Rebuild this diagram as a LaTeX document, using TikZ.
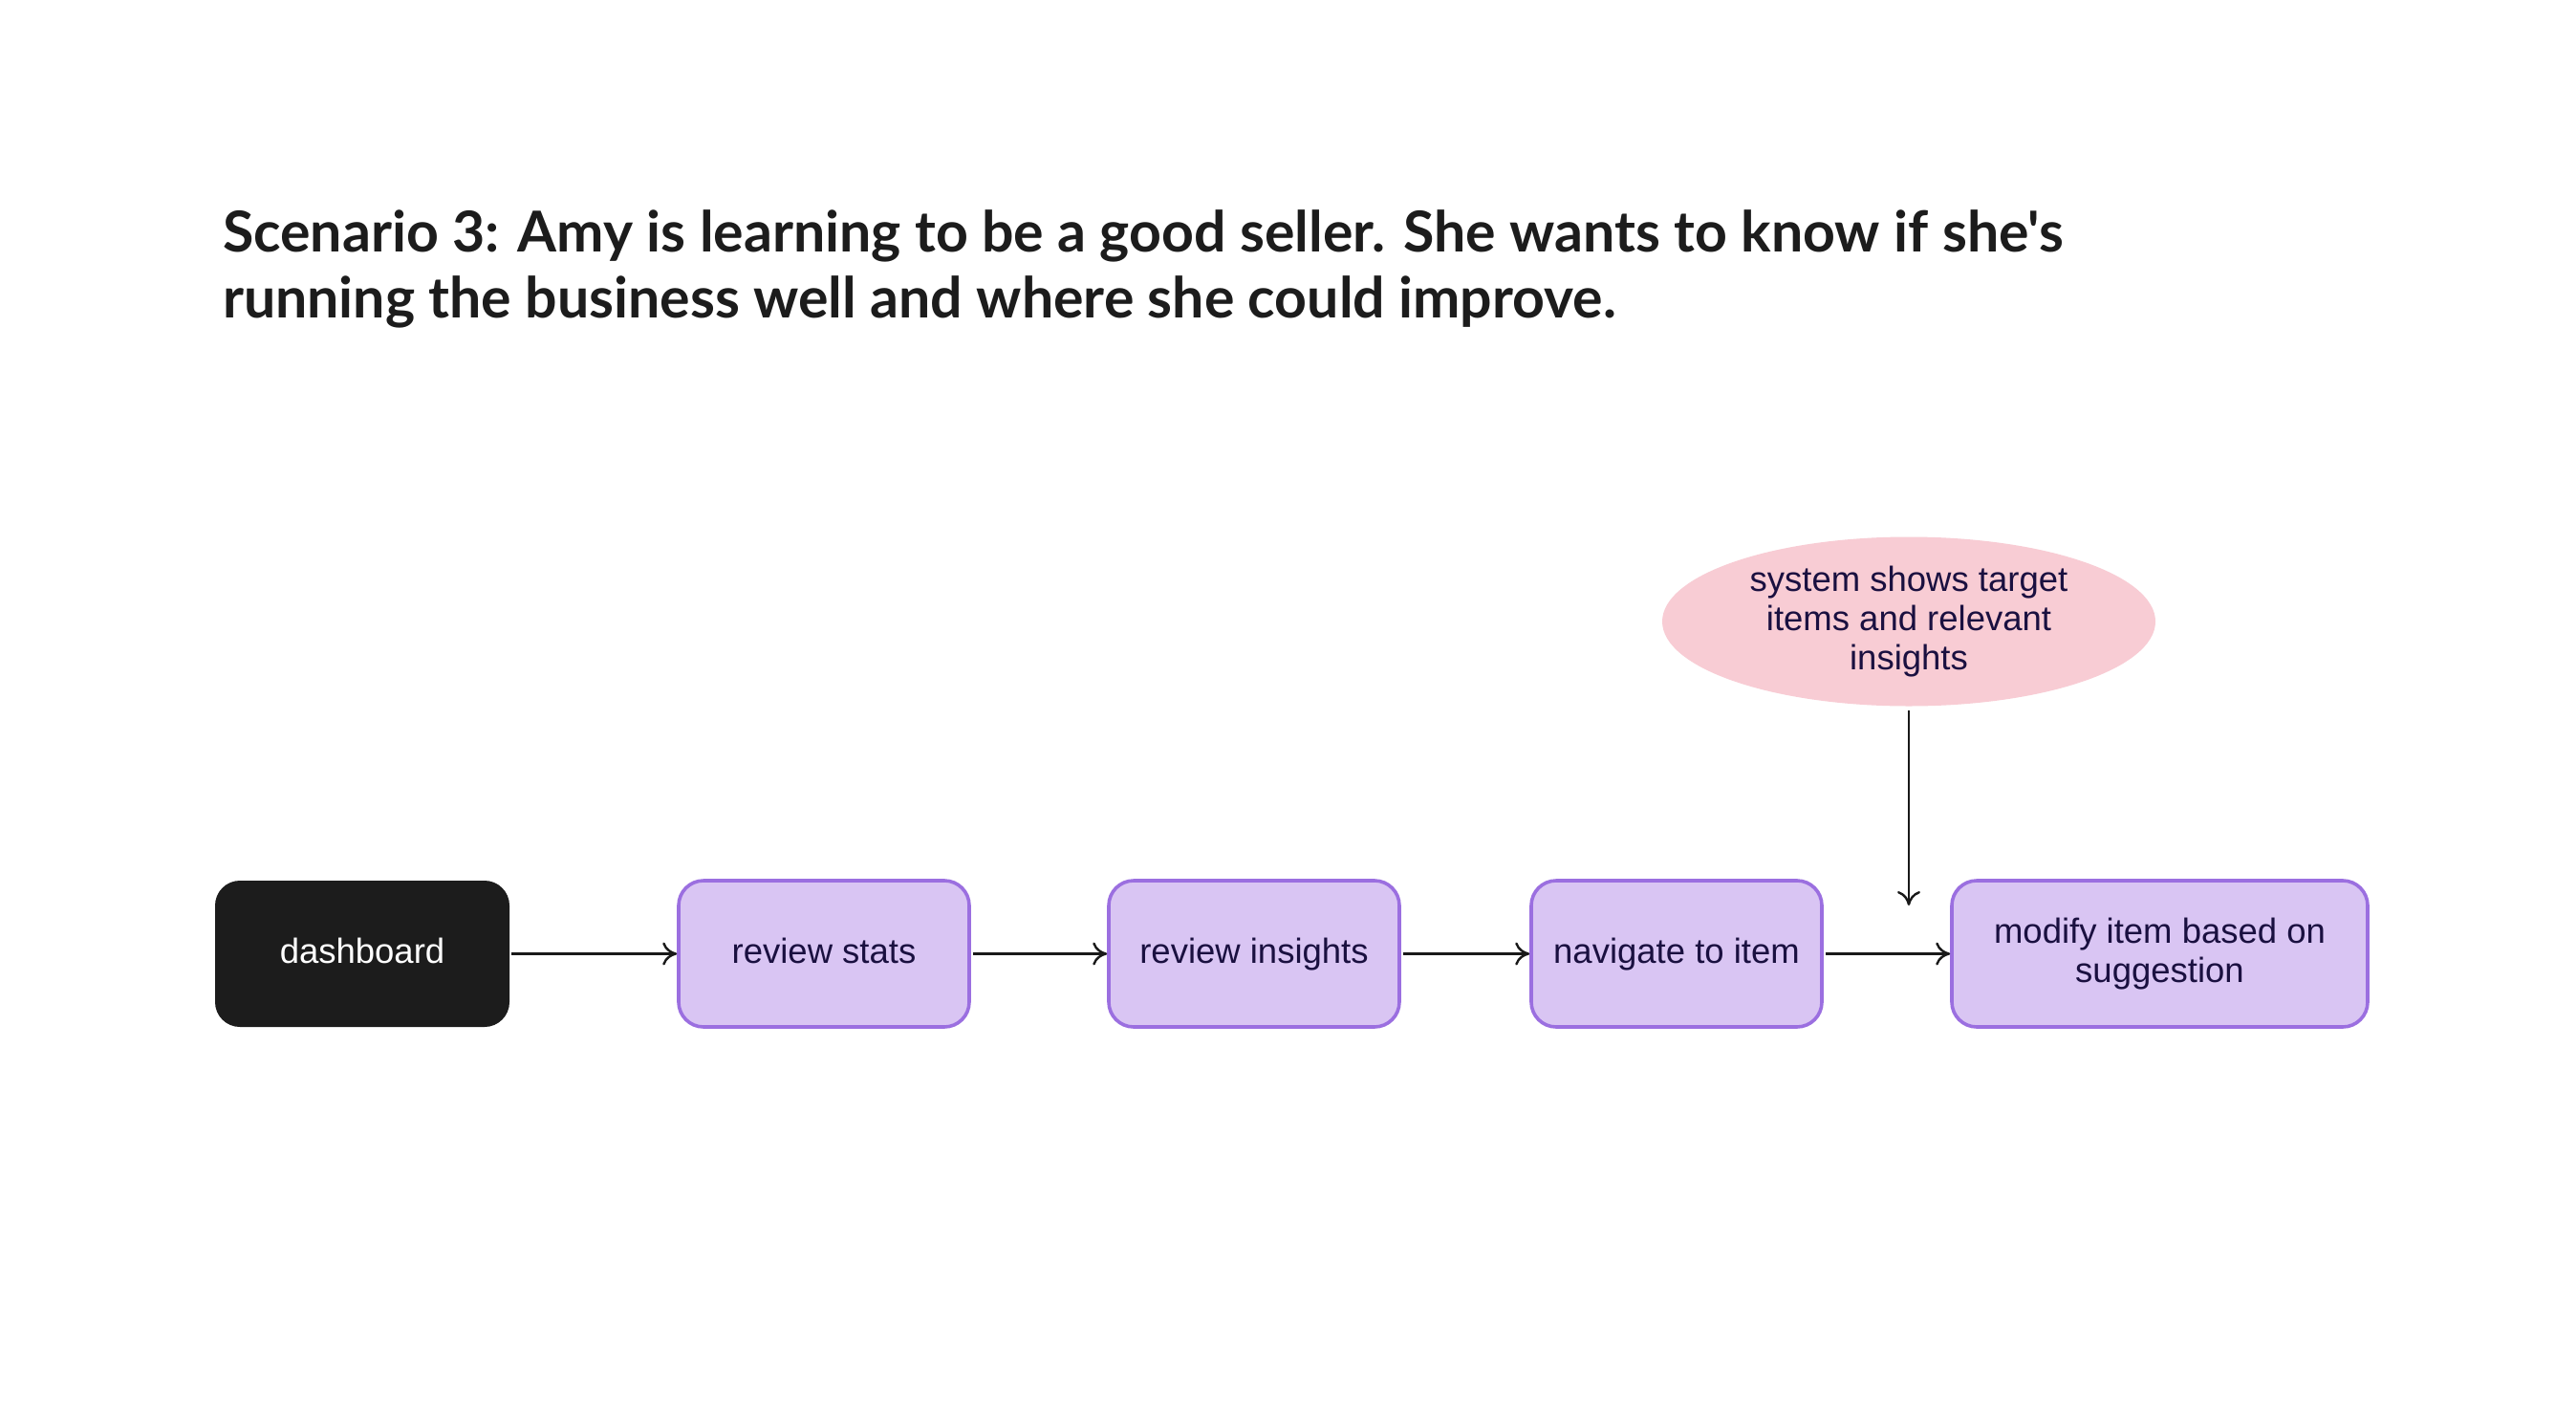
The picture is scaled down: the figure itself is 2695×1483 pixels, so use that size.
\documentclass[tikz,border=0pt]{standalone}
\usepackage{fontspec}
\setmainfont{Liberation Sans}
\newfontfamily\titlefont{Lato}
\usetikzlibrary{arrows.meta,shapes.geometric}
\definecolor{boxfill}{HTML}{D9C5F3}
\definecolor{boxline}{HTML}{9B6FE0}
\definecolor{boxtext}{HTML}{1A1040}
\definecolor{darkfill}{HTML}{1C1C1C}
\definecolor{pinkfill}{HTML}{F8CCD4}
\definecolor{titlecol}{HTML}{1C1C1C}
\tikzset{
  flowbox/.style={draw=boxline, fill=boxfill, line width=1.8pt, rounded corners=13pt,
    minimum width=152pt, minimum height=76.5pt, inner sep=0pt, align=center,
    text=boxtext, font=\fontsize{18.25}{20.5}\selectfont},
  oneline/.style={text height=15.5pt, text depth=5.5pt},
  startbox/.style={fill=darkfill, rounded corners=13pt, minimum width=154pt,
    minimum height=76.5pt, inner sep=0pt, text=white, font=\fontsize{18.25}{20.5}\selectfont},
  note/.style={ellipse, fill=pinkfill, minimum width=258pt, minimum height=88.5pt,
    inner sep=0pt, align=center, text=boxtext, font=\fontsize{18.25}{20.5}\selectfont},
  flow/.style={line width=1.2pt, -{To[length=7.5pt,width=12pt,line width=1.2pt]}, draw=black!90}
}
\begin{document}
\begin{tikzpicture}[x=0.5pt,y=-0.5pt]
\useasboundingbox[fill=white] (0,0) rectangle (2695,1483);
\node[anchor=west, align=left, text=titlecol, font=\titlefont\bfseries\fontsize{29.5}{34.5}\selectfont] (title) at (226,281)
  {Scenario 3: Amy is learning to be a good seller. She wants to know if she's\\running the business well and where she could improve.};
\node[startbox, oneline] (dash) at (379,997.5) {dashboard};
\node[flowbox, oneline] (stats) at (862,997.5) {review stats};
\node[flowbox, oneline] (ins) at (1312,997.5) {review insights};
\node[flowbox, oneline] (nav) at (1754,997.5) {navigate to item};
\node[flowbox, minimum width=217.5pt] (mod) at (2259.5,997.5) {modify item based on\\suggestion};
\node[note] (sys) at (1997,650) {system shows target\\items and relevant\\insights};
\coordinate (drop) at (1997,947);
\draw[flow] ([xshift=1pt]dash.east) -- (stats.west);
\draw[flow] ([xshift=1pt]stats.east) -- (ins.west);
\draw[flow] ([xshift=1pt]ins.east) -- (nav.west);
\draw[flow] ([xshift=1pt]nav.east) -- (mod.west);
\draw[flow] ([yshift=-2pt]sys.south) -- (drop);
\end{tikzpicture}
\end{document}
